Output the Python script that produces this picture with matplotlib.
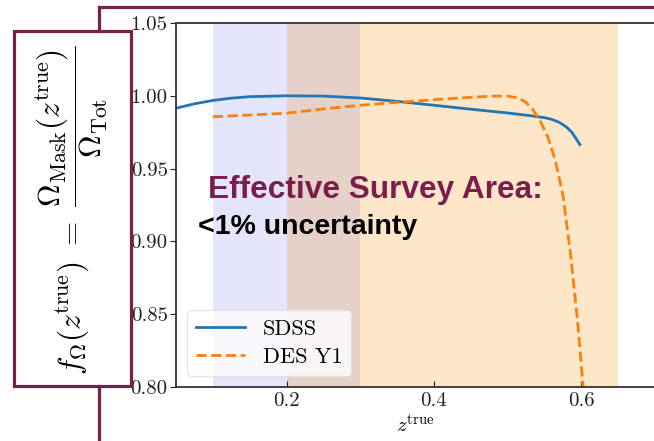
import matplotlib
matplotlib.use("Agg")
import matplotlib.pyplot as plt
from matplotlib.lines import Line2D
from matplotlib.patches import Rectangle

plt.rcParams["font.family"] = "cmr10"
plt.rcParams["mathtext.fontset"] = "cm"
plt.rcParams["axes.formatter.use_mathtext"] = True

# SDSS effective area fraction
z_sdss = [0.05, 0.075, 0.10, 0.125, 0.15, 0.20, 0.25, 0.30, 0.35, 0.40,
          0.45, 0.50, 0.53, 0.55, 0.56, 0.57, 0.58, 0.587, 0.593, 0.598]
f_sdss = [0.9915, 0.9945, 0.9968, 0.9984, 0.9994, 1.0000, 0.9998, 0.9985,
          0.9962, 0.9935, 0.9908, 0.9882, 0.9864, 0.9850, 0.9838, 0.9818,
          0.9785, 0.9750, 0.9705, 0.9665]

# DES Y1 effective area fraction
z_des = [0.10, 0.15, 0.20, 0.25, 0.30, 0.35, 0.40, 0.45, 0.48, 0.50, 0.515,
         0.525, 0.535, 0.545, 0.555, 0.565, 0.575, 0.585, 0.595, 0.605]
f_des = [0.9856, 0.9868, 0.9880, 0.9910, 0.9935, 0.9955, 0.9973, 0.9990,
         0.9998, 0.9998, 0.9985, 0.9955, 0.9900, 0.9820, 0.9710, 0.9550,
         0.9320, 0.8930, 0.8450, 0.7850]

# redshift bins (shaded)
bin_edges = [(0.1, 0.2), (0.2, 0.3), (0.3, 0.65)]
bin_colors = ["#e4e4fa", "#e6d1c9", "#fee6c9"]

xticks = [0.2, 0.4, 0.6]
yticks = [0.80, 0.85, 0.90, 0.95, 1.00, 1.05]

maroon = "#7a1f4b"
W, H = 654, 441

fig = plt.figure(figsize=(W / 100, H / 100), dpi=100)
ax = fig.add_axes([176 / W, 1 - 387 / H, 479 / W, 364 / H])

for (lo, hi), c in zip(bin_edges, bin_colors):
    ax.axvspan(lo, hi, color=c, lw=0, zorder=0)

ax.plot(z_sdss, f_sdss, color="#1f77b4", lw=2, label="SDSS")
ax.plot(z_des, f_des, color="#ff7f0e", lw=2, ls="--", label="DES Y1")

ax.set_xlim(0.05, 0.7)
ax.set_ylim(0.80, 1.05)
ax.set_xticks(xticks)
ax.set_xticklabels([f"{t:.1f}" for t in xticks])
ax.set_yticks(yticks)
ax.set_yticklabels([f"{t:.2f}" for t in yticks])
ax.tick_params(axis="x", direction="in", length=4, labelsize=15, pad=4, colors="#222222")
ax.tick_params(axis="y", direction="out", length=4, labelsize=15, pad=2, colors="#222222")
for s in ["left", "bottom", "top"]:
    ax.spines[s].set_color("#333333")
    ax.spines[s].set_linewidth(1.3)
ax.spines["right"].set_color("#dddddd")
ax.set_xlabel(r"$z^{\rm true}$", fontsize=15, labelpad=2)

ax.legend(loc="lower left", fontsize=16, handlelength=2.2, framealpha=0.8,
          edgecolor="#e0e0e0", fancybox=True, borderaxespad=0.5, labelspacing=0.4)

# y label inside its own box
fig.text(72 / W, 1 - 210 / H,
         r"$f_\Omega(z^{\rm true})\ =\ \dfrac{\Omega_{\rm Mask}(z^{\rm true})}{\Omega_{\rm Tot}}$",
         rotation=90, ha="center", va="center", fontsize=22.5)

# overlay text
fig.text(208 / W, 1 - 198 / H, "Effective Survey Area:", color=maroon,
         fontsize=22.8, fontweight="bold", family="Liberation Sans", va="baseline")
fig.text(198 / W, 1 - 234 / H, "<1% uncertainty", color="black",
         fontsize=20.5, fontweight="bold", family="Liberation Sans", va="baseline")

# maroon frame
def fx(x):
    return x / W

def fy(y):
    return 1 - y / H

lw = 2.3
fig.add_artist(Line2D([fx(99), fx(654)], [fy(7), fy(7)], color=maroon, lw=lw))
fig.add_artist(Line2D([fx(99), fx(99)], [fy(7), fy(31)], color=maroon, lw=lw))
fig.add_artist(Line2D([fx(99), fx(99)], [fy(386), fy(441)], color=maroon, lw=lw))
fig.add_artist(Rectangle((fx(14), fy(386)), fx(117), 355 / H, transform=fig.transFigure,
                         fill=False, edgecolor=maroon, lw=lw))

fig.savefig("out.png", dpi=100)
